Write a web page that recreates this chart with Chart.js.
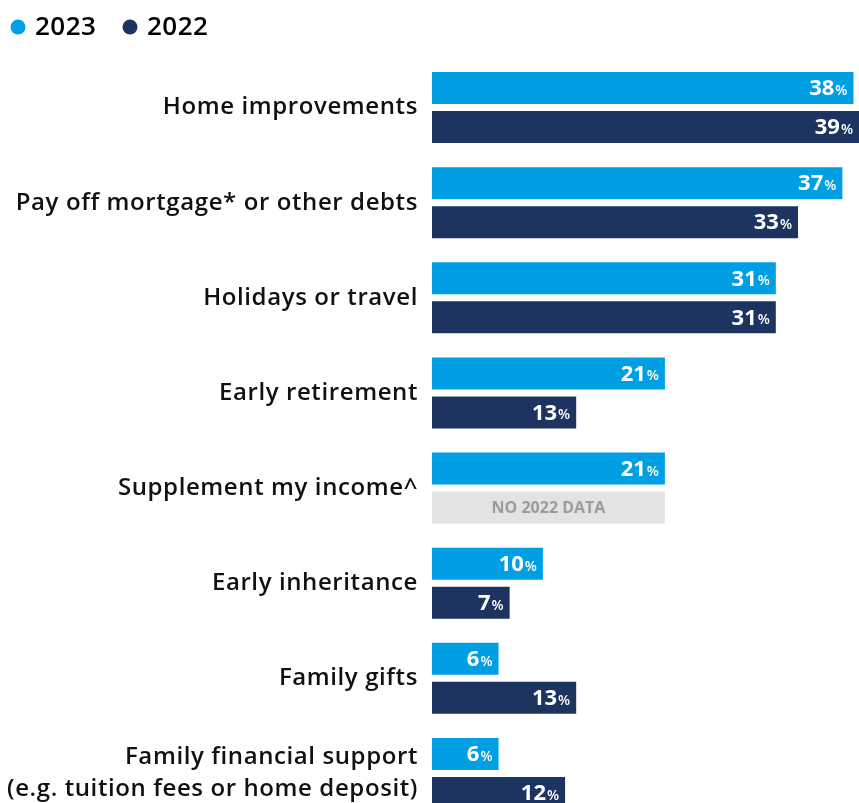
<!DOCTYPE html>
<html>
<head>
<meta charset="utf-8">
<script src="https://cdn.jsdelivr.net/npm/chart.js@4"></script>
<style>
  html, body { margin: 0; padding: 0; background: #fff; overflow: hidden; }
</style>
</head>
<body>
<canvas id="c" width="859" height="821"></canvas>
<script>
const categories = [
  "Home improvements",
  "Pay off mortgage* or other debts",
  "Holidays or travel",
  "Early retirement",
  "Supplement my income^",
  "Early inheritance",
  "Family gifts",
  ["Family financial support", "(e.g. tuition fees or home deposit)"]
];
const values2023 = [38, 37, 31, 21, 21, 10, 6, 6];
const values2022 = [39, 33, 31, 13, null, 7, 13, 12];
const seriesNames = ["2023", "2022"];
const noDataText = "NO 2022 DATA";

const C2023 = "#009fe3";
const C2022 = "#1d3461";
const CNODATA = "#e3e3e3";
const FONT = "'Open Sans'";

// Missing 2022 entries are shown as a grey placeholder the width of the 2023 bar
const bars2022 = values2022.map((v, i) => v === null ? values2023[i] : v);
const colors2022 = values2022.map(v => v === null ? CNODATA : C2022);

// Slightly wider tracking for the category labels
const labelTracking = {
  id: "labelTracking",
  beforeDraw(chart) { chart.ctx.letterSpacing = "0.6px"; },
  beforeDatasetsDraw(chart) { chart.ctx.letterSpacing = "0px"; }
};

const valueLabels = {
  id: "valueLabels",
  afterDatasetsDraw(chart) {
    const ctx = chart.ctx;
    ctx.save();
    ctx.letterSpacing = "0px";
    ctx.textBaseline = "middle";
    chart.data.datasets.forEach((ds, di) => {
      const meta = chart.getDatasetMeta(di);
      meta.data.forEach((bar, i) => {
        const raw = di === 0 ? values2023[i] : values2022[i];
        const right = Math.min(bar.x, chart.chartArea.right);
        if (raw === null) {
          ctx.fillStyle = "#9b9b9b";
          ctx.font = `bold 16px ${FONT}`;
          ctx.textAlign = "center";
          ctx.fillText(noDataText, (bar.base + bar.x) / 2, bar.y + 1);
          return;
        }
        ctx.fillStyle = "#ffffff";
        ctx.textAlign = "right";
        ctx.font = `600 14px ${FONT}`;
        const pw = ctx.measureText("%").width;
        const pctX = right - 6;
        ctx.fillText("%", pctX, bar.y + 3);
        ctx.font = `bold 22px ${FONT}`;
        ctx.fillText(String(raw), pctX - pw - 1, bar.y + 1);
      });
    });
    ctx.restore();
  }
};

const topLegend = {
  id: "topLegend",
  afterDraw(chart) {
    const ctx = chart.ctx;
    ctx.save();
    ctx.letterSpacing = "0.5px";
    ctx.textBaseline = "middle";
    ctx.textAlign = "left";
    ctx.font = `600 26px ${FONT}`;
    const items = [
      { x: 18, color: C2023, text: seriesNames[0] },
      { x: 130, color: C2022, text: seriesNames[1] }
    ];
    items.forEach(it => {
      ctx.fillStyle = it.color;
      ctx.beginPath();
      ctx.arc(it.x, 27, 7.5, 0, Math.PI * 2);
      ctx.fill();
      ctx.fillStyle = "#000";
      ctx.fillText(it.text, it.x + 17, 28);
    });
    ctx.restore();
  }
};

new Chart(document.getElementById("c"), {
  type: "bar",
  data: {
    labels: categories,
    datasets: [
      { label: seriesNames[0], data: values2023, backgroundColor: C2023 },
      { label: seriesNames[1], data: bars2022, backgroundColor: colors2022 }
    ]
  },
  options: {
    indexAxis: "y",
    responsive: false,
    animation: false,
    categoryPercentage: 0.82,
    barPercentage: 0.82,
    layout: { padding: { top: 60, left: 0, right: 0, bottom: 0 } },
    plugins: {
      legend: { display: false },
      tooltip: { enabled: false }
    },
    scales: {
      x: { display: false, min: 0, max: 38.5 },
      y: {
        grid: { display: false },
        border: { display: false },
        ticks: {
          color: "#111",
          padding: 6,
          font: { family: "Open Sans", size: 24, weight: "600", lineHeight: 1.35 }
        },
        afterFit(scale) {
          scale.width = 432;
          scale.paddingTop = 0;
          scale.paddingBottom = 0;
        }
      }
    }
  },
  plugins: [labelTracking, valueLabels, topLegend]
});
</script>
</body>
</html>
